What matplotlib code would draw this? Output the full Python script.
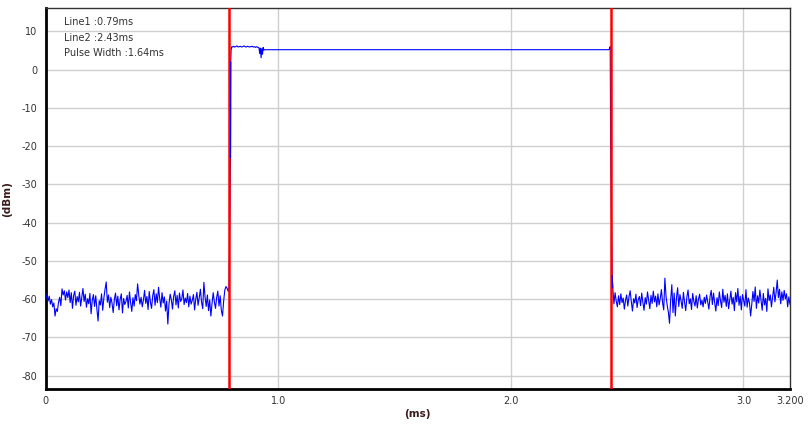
import numpy as np
import matplotlib
matplotlib.use("Agg")
import matplotlib.pyplot as plt

plt.rcParams["axes.unicode_minus"] = False

# ---- data ----
line1 = 0.79
line2 = 2.43
pulse_width = 1.64

noise_left_start = 0.0
noise_step = 0.005
noise_left = [
    -58.6, -59.8, -60.5, -59.2, -61.3, -60.1, -62.0, -61.0, -64.4, -62.5,
    -63.2, -60.8, -59.5, -61.7, -57.3, -58.9, -57.8, -60.2, -58.1, -59.6,
    -57.6, -60.9, -58.3, -62.4, -59.0, -57.9, -61.6, -59.3, -60.7, -58.2,
    -61.8, -59.4, -57.2, -60.6, -58.7, -62.1, -59.9, -61.2, -58.5, -63.8,
    -60.3, -58.8, -61.9, -59.1, -62.6, -65.7, -60.4, -61.5, -58.6, -62.9,
    -59.7, -57.4, -55.5, -60.8, -58.9, -62.2, -59.5, -61.0, -63.5, -60.1,
    -58.4, -61.7, -59.2, -62.8, -60.0, -58.6, -63.6, -59.8, -61.4, -60.6,
    -59.0, -62.3, -58.1, -60.9, -63.2, -59.6, -61.8, -58.8, -60.4, -56.0,
    -58.9, -61.3, -59.5, -62.0, -60.2, -57.7, -61.1, -59.3, -62.7, -58.0,
    -60.7, -62.4, -59.1, -57.5, -61.6, -58.6, -60.9, -56.9, -59.8, -62.1,
    -58.3, -61.0, -59.4, -63.1, -60.5, -66.5, -61.2, -58.7, -60.1, -62.6,
    -59.3, -57.8, -61.5, -59.0, -62.3, -58.4, -60.6, -59.9, -57.6, -61.4,
    -59.7, -60.9, -58.5, -62.0, -59.2, -61.3, -60.3, -58.8, -62.8, -60.0,
    -58.2, -61.6, -59.6, -57.4, -60.8, -62.5, -55.6, -59.4, -61.9, -58.9,
    -63.0, -60.2, -64.4, -61.1, -58.3, -60.7, -62.4, -59.5, -57.9, -61.8,
    -59.1, -62.9, -64.4, -60.5, -57.6, -56.7, -57.2, -58.0,
]

pulse_t = [
    0.788, 0.7945, 0.7955, 0.797, 0.800, 0.804, 0.808, 0.812, 0.817, 0.822,
    0.827, 0.832, 0.837, 0.842, 0.847, 0.852, 0.857, 0.862, 0.867, 0.872,
    0.877, 0.882, 0.887, 0.892, 0.897, 0.902, 0.907, 0.912, 0.917, 0.920,
    0.923, 0.926, 0.929, 0.932, 0.935, 0.938, 0.942, 2.420, 2.424, 2.427,
    2.429, 2.4355,
]
pulse_v = [
    -57.0, -23.0, 2.0, 5.2, 6.0, 5.9, 6.1, 5.9, 6.0, 6.2,
    5.9, 6.0, 6.1, 5.9, 6.0, 6.2, 6.0, 5.9, 6.1, 6.0,
    5.9, 6.0, 6.1, 5.9, 6.0, 5.8, 6.0, 5.8, 5.7, 4.2,
    5.6, 3.1, 5.5, 4.0, 5.8, 5.1, 5.2, 5.2, 5.4, 6.0,
    -20.0, -53.9,
]

noise_right_start = 2.438
noise_right = [
    -57.0, -61.2, -58.3, -60.5, -62.0, -59.1, -61.4, -58.6, -60.9, -59.7,
    -62.6, -60.3, -58.9, -61.8, -59.4, -57.8, -60.6, -63.1, -59.9, -61.0,
    -58.7, -62.2, -60.1, -59.3, -61.7, -58.4, -60.8, -62.9, -59.6, -61.3,
    -58.1, -60.4, -62.5, -59.0, -61.1, -57.9, -60.7, -59.2, -62.0, -58.6,
    -61.5, -59.8, -57.5, -60.9, -62.8, -54.5, -59.3, -61.6, -63.4, -66.3,
    -60.2, -56.2, -63.5, -58.4, -64.4, -59.7, -57.0, -61.9, -58.8, -60.5,
    -62.4, -58.2, -60.8, -63.0, -59.4, -57.6, -61.2, -59.9, -62.7, -58.5,
    -60.6, -61.8, -59.1, -62.3, -60.0, -58.7, -61.5, -60.3, -62.0, -59.5,
    -61.1, -58.9, -60.7, -62.6, -59.3, -57.7, -61.4, -58.4, -60.9, -63.1,
    -59.6, -61.7, -58.1, -60.4, -62.2, -57.4, -60.8, -59.0, -61.9, -58.6,
    -62.5, -60.1, -57.9, -61.3, -59.5, -63.0, -58.3, -60.7, -57.2, -61.6,
    -59.2, -62.8, -58.8, -60.3, -61.8, -57.5, -62.1, -59.7, -60.9, -64.4,
    -61.4, -58.0, -60.6, -56.8, -62.4, -59.1, -61.0, -57.6, -60.2, -62.9,
    -58.5, -61.5, -59.8, -63.2, -57.3, -60.4, -58.9, -62.0, -59.4, -56.9,
    -60.7, -58.3, -55.0, -59.6, -57.4, -61.2, -58.1, -60.3, -57.7, -59.9,
    -58.6, -62.0, -59.4, -61.3,
]

yticks = [-80, -70, -60, -50, -40, -30, -20, -10, 0, 10]
xticks = [0, 1.0, 2.0, 3.0, 3.2]
xtick_labels = ["0", "1.0", "2.0", "3.0", "3.200"]

# ---- build trace ----
t_left = noise_left_start + noise_step * np.arange(len(noise_left))
t_right = noise_right_start + (3.2 - noise_right_start) / (len(noise_right) - 1) * np.arange(len(noise_right))
t_all = np.concatenate([t_left, pulse_t, t_right])
v_all = np.concatenate([noise_left, pulse_v, noise_right])

fig = plt.figure(figsize=(8.08, 4.28), dpi=100)
ax = fig.add_axes([0.0566, 0.09, 0.9211, 0.8913])

ax.set_xlim(0, 3.2)
ax.set_ylim(-83.6, 16.1)

ax.set_yticks(yticks)
ax.set_xticks(xticks)
ax.set_xticklabels(xtick_labels)

# grid
for y in yticks:
    ax.axhline(y, color="#cfcfcf", lw=1.0, zorder=0)
for x in [1.0, 2.0, 3.0]:
    ax.axvline(x, color="#cfcfcf", lw=1.0, zorder=0)

ax.plot(t_all, v_all, color="#0000ff", lw=0.8, zorder=3)

ax.axvline(line1, color="#ff0000", lw=1.8, zorder=4)
ax.axvline(line2, color="#ff0000", lw=1.8, zorder=4)
# trace edges drawn above the markers where they overlap
n0 = len(noise_left)
ax.plot(t_all[n0 + 1:n0 + 3], v_all[n0 + 1:n0 + 3], color="#0000ff", lw=0.8, zorder=5)
n1 = n0 + len(pulse_t)
ax.plot(t_all[n1 - 1:n1 + 1], v_all[n1 - 1:n1 + 1], color="#0000ff", lw=0.8, zorder=5)

ax.tick_params(axis="both", length=0, labelsize=7, colors="#333333")
ax.tick_params(axis="y", pad=6)
ax.tick_params(axis="x", pad=5)

for s in ["left", "bottom"]:
    ax.spines[s].set_color("#000000")
    ax.spines[s].set_linewidth(2.0)
for s in ["top", "right"]:
    ax.spines[s].set_color("#333333")
    ax.spines[s].set_linewidth(1.0)

ax.set_ylabel("(dBm)", fontsize=7.5, fontweight="bold", color="#3a1a1a")
ax.yaxis.set_label_coords(-0.045, 0.5)
ax.set_xlabel("(ms)", fontsize=7.5, fontweight="bold", color="#3a1a1a")
ax.xaxis.set_label_coords(0.5, -0.05)

info = [f"Line1 :{line1:.2f}ms", f"Line2 :{line2:.2f}ms", f"Pulse Width :{pulse_width:.2f}ms"]
for i, s in enumerate(info):
    ax.text(0.025, 0.962 - i * 0.04, s, transform=ax.transAxes, fontsize=7,
            color="#333333", va="center", ha="left")

fig.savefig("out.png", dpi=100, facecolor="white")
